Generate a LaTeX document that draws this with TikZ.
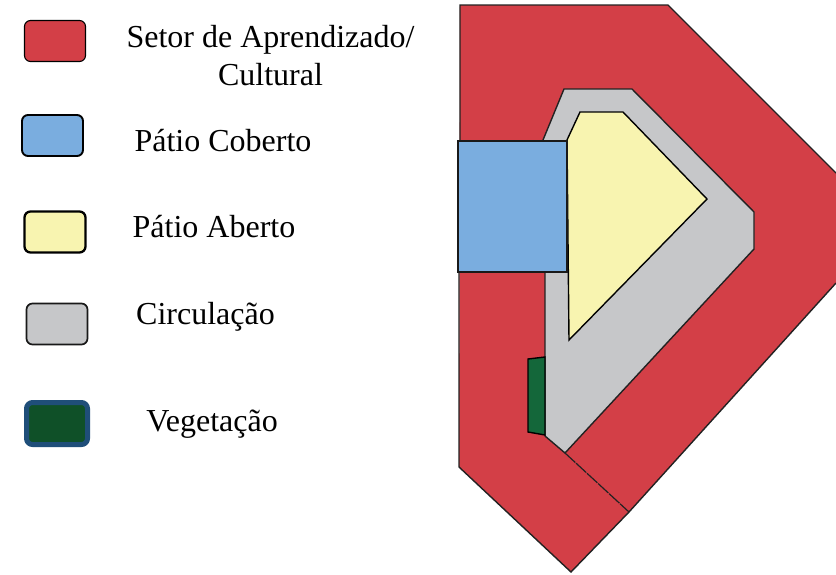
\documentclass[tikz,border=0pt]{standalone}
\usepackage{fontspec}
\setmainfont{Liberation Serif}
\definecolor{redc}{HTML}{D33F47}
\definecolor{bluec}{HTML}{7AADDF}
\definecolor{yelc}{HTML}{F8F4B0}
\definecolor{grayc}{HTML}{C6C7C9}
\definecolor{greenc}{HTML}{0F5028}
\definecolor{greenp}{HTML}{14673A}
\definecolor{navyc}{HTML}{1F4E79}
\definecolor{linec}{HTML}{222222}
\tikzset{
 swatch/.style={rounded corners=6pt,line join=round},
 shapeline/.style={draw=linec,line width=1.4pt,line join=miter},
 lbl/.style={font=\fontsize{32}{38}\selectfont,text=black,inner sep=0pt,align=center}
}
\begin{document}
\begin{tikzpicture}[x=1pt,y=-1pt]
\useasboundingbox (0,0) rectangle (836,574);
\fill[white] (0,0) rectangle (836,574);
% plan
\fill[redc] (460,5) -- (668,5) -- (836,173) -- (836,283) -- (629,512) -- (571,572) -- (459,467) -- cycle;
\draw[shapeline] (460,140) -- (460,5) -- (668,5) -- (836,173);
\draw[shapeline] (836,283) -- (629,512) -- (571,572) -- (459,467) -- (459,272);
\draw[shapeline,fill=grayc] (543,140) -- (564,89) -- (632,89) -- (754,212) -- (754,249) -- (565,453) -- (545,436) -- (545,272) -- cycle;
\draw[draw=linec,line width=1.2pt,dash pattern=on 14pt off 1pt] (565,453) -- (629,512);
\draw[draw=black,line width=1.4pt,fill=greenp] (528,359) -- (545,357) -- (545,435) -- (528,432) -- cycle;
\draw[shapeline,draw=black,fill=yelc] (567,140) -- (580,112) -- (623,112) -- (707,199) -- (569,340) -- cycle;
\draw[draw=black!90,line width=1.9pt,fill=bluec] (458,141) rectangle (567,272);
% legend
\node[swatch,draw=black,line width=1.1pt,fill=redc,inner sep=0pt] (s1) at (55,41) {\tikz[x=1pt,y=1pt]\path (0,0) rectangle (61,41);};
\node[swatch,draw=black,line width=1.9pt,fill=bluec,inner sep=0pt] (s2) at (52.5,135.5) {\tikz[x=1pt,y=1pt]\path (0,0) rectangle (61,41);};
\node[swatch,draw=black,line width=2.3pt,fill=yelc,inner sep=0pt] (s3) at (55,232) {\tikz[x=1pt,y=1pt]\path (0,0) rectangle (61,41);};
\node[swatch,draw=black!90,line width=1.7pt,fill=grayc,inner sep=0pt] (s4) at (57,324) {\tikz[x=1pt,y=1pt]\path (0,0) rectangle (61,41);};
\node[swatch,draw=navyc,line width=5pt,fill=greenc,inner sep=0pt] (s5) at (57,423.5) {\tikz[x=1pt,y=1pt]\path (0,0) rectangle (61,42);};
\node[lbl] (t1) at (270.5,56) {Setor de Aprendizado/\\Cultural};
\node[lbl,anchor=base] (t2) at (223,151) {Pátio Coberto};
\node[lbl,anchor=base] (t3) at (214,237) {Pátio Aberto};
\node[lbl,anchor=base] (t4) at (205.5,324) {Circulação};
\node[lbl,anchor=base] (t5) at (212,431) {Vegetação};
\end{tikzpicture}
\end{document}
